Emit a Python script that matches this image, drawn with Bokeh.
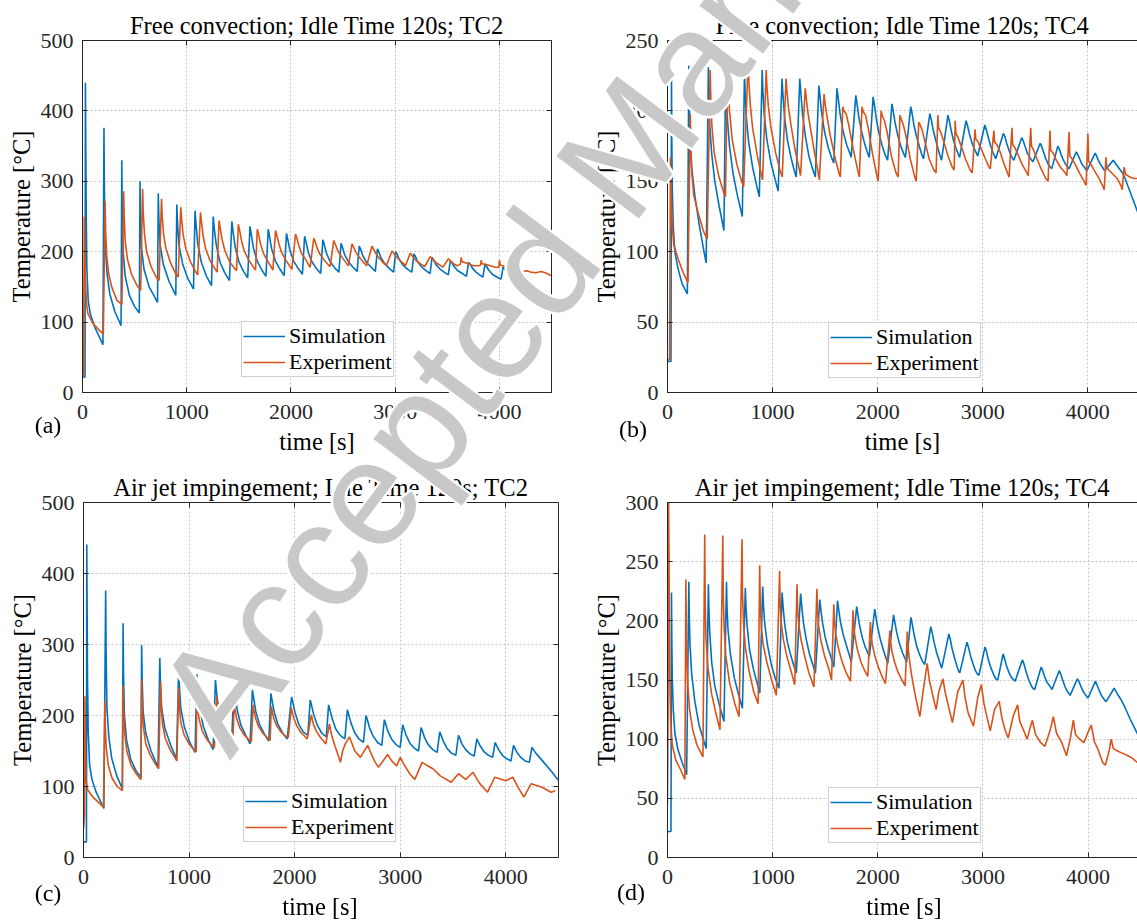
import math
from bokeh.plotting import figure
from bokeh.layouts import row, column
from bokeh.models import Range1d, LinearAxis, FixedTicker, Legend, LegendItem, Div
from bokeh.embed import file_html
from bokeh.resources import INLINE

SERIF = "Liberation Serif"
BLUE = "#0072BD"
ORANGE = "#D95319"
AXC = "#262626"

x_ticks = [0, 1000, 2000, 3000, 4000]
y_ticks_a = [0, 100, 200, 300, 400, 500]
y_ticks_b = [0, 50, 100, 150, 200, 250]
y_ticks_c = [0, 100, 200, 300, 400, 500]
y_ticks_d = [0, 50, 100, 150, 200, 250, 300]

titles = ["Free convection; Idle Time 120s; TC2",
          "Free convection; Idle Time 120s; TC4",
          "Air jet impingement; Idle Time 120s; TC2",
          "Air jet impingement; Idle Time 120s; TC4"]
panel_tags = ["(a)", "(b)", "(c)", "(d)"]
series_names = ["Simulation", "Experiment"]
x_title = "time [s]"
y_title = "Temperature [\u00b0C]"
watermark = "Accepted Manuscript"

# (time [s], temperature [C])
a_sim = [(0,22),(24,22),(28,440),(31,360),(36,250),(42,175),(55,130),(75,112),(120,92),(196,68),
(206,376),(210,290),(218,210),(235,170),(262,140),(310,115),(370,95),
(377,330),(381,260),(390,200),(410,165),(450,138),(500,122),(545,113),
(552,300),(557,250),(566,205),(590,175),(640,150),(720,128),
(727,283),(733,245),(745,210),(775,182),(830,158),(895,138),
(905,267),(912,240),(925,210),(960,183),(1010,162),(1065,147),
(1080,258),(1090,238),(1105,212),(1140,185),(1190,165),(1238,152),
(1254,250),(1265,232),(1285,208),(1320,185),(1365,170),(1410,159),
(1433,243),(1445,228),(1465,207),(1500,186),(1545,172),(1585,163),
(1607,236),(1620,224),(1640,205),(1675,187),(1720,174),(1760,165),
(1782,232),(1795,221),(1815,204),(1850,187),(1895,175),(1935,166),
(1957,226),(1970,217),(1990,202),(2025,187),(2070,176),(2110,168),
(2131,222),(2145,214),(2165,200),(2200,186),(2245,176),(2285,169),
(2306,217),(2320,210),(2340,198),(2375,186),(2420,177),(2460,171),
(2481,212),(2495,206),(2515,196),(2550,186),(2595,178),(2635,172),
(2655,208),(2670,203),(2690,194),(2725,185),(2770,178),(2810,172),
(2830,204),(2845,199),(2865,191),(2900,183),(2945,176),(2985,171),
(3005,200),(3020,196),(3040,189),(3075,181),(3120,175),(3160,171),
(3180,197),(3195,193),(3215,186),(3250,179),(3295,173),(3335,169),
(3354,192),(3370,188),(3390,182),(3425,176),(3470,171),(3510,167),
(3529,187),(3545,184),(3565,179),(3600,173),(3645,169),(3684,165),
(3704,185),(3720,182),(3740,177),(3775,171),(3810,167),(3842,164),
(3861,182),(3877,179),(3897,174),(3932,168),(3975,164),(4016,161),
(4036,178),(4052,175),(4072,170),(4107,165),(4150,162),(4190,160),
(4210,174),(4226,171),(4250,166),(4300,157),(4350,149),(4400,141),(4450,134),(4495,128)]

a_exp = [(0,22),(10,26),(14,150),(17,250),(22,200),(30,150),(40,125),(52,112),(100,98),(150,90),(200,83),
(217,272),(222,230),(232,195),(250,170),(280,150),(330,131),(378,125),
(395,286),(400,250),(410,215),(430,190),(470,168),(520,153),(558,145),
(577,289),(583,255),(595,225),(615,200),(660,178),(710,163),(735,159),
(758,275),(765,250),(778,225),(800,205),(845,184),(890,170),(918,164),
(943,263),(952,245),(965,225),(990,205),(1035,186),(1080,173),(1105,167),
(1132,256),(1142,242),(1157,223),(1180,205),(1225,187),(1270,176),(1292,171),
(1310,244),(1322,233),(1340,217),(1365,202),(1410,186),(1455,177),(1478,173),
(1495,239),(1508,230),(1525,216),(1550,202),(1595,188),(1640,178),(1660,174),
(1677,232),(1690,224),(1708,211),(1735,198),(1780,186),(1815,177),(1827,174),
(1852,230),(1865,223),(1885,211),(1910,199),(1955,187),(1995,178),(2009,175),
(2044,225),(2057,219),(2077,208),(2100,198),(2145,188),(2175,180),(2184,178),
(2219,219),(2232,214),(2252,205),(2275,197),(2320,188),(2360,181),(2376,179),
(2411,216),(2425,211),(2445,203),(2470,196),(2510,188),(2540,182),(2551,180),
(2586,211),(2600,207),(2620,200),(2645,194),(2685,187),(2715,182),(2726,180),
(2778,208),(2792,204),(2812,198),(2835,193),(2870,187),(2900,182),(2918,181),
(2970,201),(2985,198),(3005,194),(3030,190),(3065,185),(3090,182),(3099,180),
(3145,198),(3160,195),(3180,191),(3205,187),(3240,183),(3270,180),(3284,179),
(3337,193),(3350,191),(3370,188),(3395,184),(3430,181),(3459,178),
(3511,190),(3530,187),(3560,183),(3590,180),(3625,182),(3634,192),(3640,186),(3680,184),(3720,182),(3750,180),
(3800,180),(3820,181),(3826,188),(3832,183),(3870,182),(3910,180),(3960,178),(3995,178),(4001,188),(4008,181),
(4050,179),(4100,176),(4150,175),(4160,173),(4200,170),(4230,172),(4260,173),(4300,171),(4350,170),(4400,172),
(4440,170),(4470,168),(4495,166)]

b_sim = [(0,22),(33,22),(38,224),(41,180),(45,146),(55,118),(70,100),(100,88),(140,77),(189,70),
(203,232),(207,205),(214,184),(230,160),(260,140),(300,120),(340,103),(368,92),
(389,231),(394,210),(402,190),(420,170),(450,150),(490,133),(537,115),
(554,233),(559,215),(568,196),(590,175),(625,155),(665,140),(712,125),
(733,229),(739,213),(750,196),(772,178),(810,160),(845,148),(874,139),
(901,229),(908,214),(920,198),(945,180),(985,163),(1025,151),(1053,143),
(1090,223),(1100,210),(1115,195),(1140,180),(1175,167),(1205,158),(1225,153),
(1259,223),(1270,212),(1285,198),(1310,183),(1345,168),(1380,159),(1407,153),
(1441,218),(1452,210),(1468,198),(1495,185),(1530,174),(1560,167),(1582,163),
(1613,216),(1625,209),(1642,198),(1670,186),(1705,176),(1730,171),(1748,167),
(1792,211),(1804,205),(1820,196),(1845,186),(1875,177),(1900,171),(1920,167),
(1957,210),(1970,204),(1986,195),(2010,185),(2040,176),(2070,169),(2095,165),
(2136,205),(2148,200),(2165,192),(2190,183),(2220,175),(2245,170),(2264,167),
(2315,203),(2328,198),(2345,190),(2370,182),(2400,174),(2420,169),(2436,166),
(2497,198),(2510,194),(2527,187),(2550,180),(2575,173),(2595,168),(2608,165),
(2669,197),(2682,193),(2700,186),(2722,179),(2748,173),(2768,169),(2780,167),
(2841,193),(2854,190),(2872,184),(2895,178),(2920,173),(2940,170),(2952,168),
(3020,190),(3033,187),(3050,182),(3072,176),(3095,171),(3112,168),(3124,166),
(3196,184),(3210,182),(3228,177),(3250,172),(3272,168),(3286,166),(3296,165),
(3371,181),(3384,179),(3402,175),(3425,170),(3448,167),(3465,165),(3478,164),
(3547,177),(3560,175),(3578,171),(3600,166),(3625,162),(3645,160),(3657,159),
(3715,175),(3728,173),(3746,169),(3768,165),(3790,162),(3810,160),(3822,159),
(3891,171),(3904,169),(3922,166),(3945,162),(3968,160),(3985,158),(3994,158),
(4070,170),(4083,168),(4100,165),(4120,162),(4140,160),(4155,158),(4166,158),
(4242,165),(4260,163),(4290,160),(4320,157),(4345,154),(4380,147),(4420,139),(4460,131),(4500,123)]

b_exp = [(0,22),(20,24),(28,167),(35,140),(45,118),(60,105),(100,95),(150,85),(195,78),
(217,198),(222,175),(232,155),(250,140),(290,128),(340,115),(378,109),
(406,229),(412,210),(422,190),(445,170),(490,153),(535,142),(552,139),
(571,237),(578,218),(590,200),(615,180),(660,162),(705,150),(725,146),
(767,235),(775,220),(787,205),(810,188),(855,168),(890,156),(905,151),
(939,229),(947,216),(960,203),(985,188),(1030,170),(1070,158),(1092,153),
(1128,223),(1138,213),(1152,202),(1175,190),(1215,172),(1250,160),(1266,154),
(1311,216),(1322,208),(1336,199),(1360,188),(1400,170),(1430,158),(1445,151),
(1490,212),(1500,205),(1520,195),(1550,182),(1600,165),(1635,155),(1645,153),
(1668,203),(1680,200),(1700,198),(1725,190),(1770,172),(1810,158),(1826,153),
(1851,203),(1865,199),(1885,197),(1910,188),(1950,170),(1990,155),(2005,150),
(2033,200),(2047,196),(2065,193),(2090,185),(2130,168),(2175,156),(2195,153),
(2212,197),(2225,194),(2245,190),(2270,182),(2310,166),(2350,154),(2367,150),
(2391,192),(2405,190),(2425,186),(2450,178),(2490,166),(2535,158),(2556,156),
(2573,197),(2580,188),(2600,185),(2630,178),(2670,168),(2710,160),(2728,158),
(2738,193),(2745,184),(2765,181),(2795,175),(2835,166),(2880,158),(2900,156),
(2927,187),(2934,180),(2955,178),(2985,173),(3025,166),(3060,160),(3072,159),
(3106,186),(3113,178),(3135,176),(3165,171),(3205,162),(3240,155),(3251,153),
(3278,188),(3285,176),(3305,174),(3335,169),(3375,162),(3420,156),(3433,154),
(3457,188),(3464,175),(3485,172),(3515,166),(3555,159),(3600,152),(3622,150),
(3640,186),(3647,172),(3670,170),(3700,165),(3740,160),(3785,156),(3801,154),
(3822,185),(3829,168),(3850,166),(3880,162),(3920,156),(3965,150),(3984,147),
(4001,184),(4008,164),(4030,162),(4060,158),(4100,153),(4140,147),(4156,144),
(4173,167),(4180,160),(4200,158),(4240,155),(4280,152),(4315,147),(4328,144),
(4345,160),(4360,155),(4400,153),(4440,152),(4475,152)]

c_sim = [(0,22),(28,22),(31,441),(34,360),(38,250),(45,175),(58,130),(80,110),(120,92),(193,69),
(210,376),(214,290),(222,210),(240,170),(267,140),(315,115),(368,97),
(375,330),(379,260),(388,200),(408,165),(448,138),(498,122),(544,113),
(551,299),(556,250),(565,205),(590,175),(640,150),(706,127),
(723,281),(729,245),(741,210),(771,182),(826,158),(881,139),
(902,267),(909,240),(922,210),(957,183),(1007,162),(1057,148),
(1074,258),(1084,238),(1099,212),(1134,185),(1184,165),(1228,152),
(1250,250),(1261,232),(1281,208),(1316,185),(1361,170),(1402,156),
(1425,243),(1437,228),(1457,207),(1492,186),(1537,172),(1578,160),
(1600,236),(1613,224),(1633,205),(1668,187),(1713,174),(1755,164),
(1775,231),(1788,220),(1808,204),(1843,187),(1888,175),(1930,167),
(1971,226),(1984,218),(2004,204),(2039,188),(2081,177),(2125,172),
(2148,222),(2161,214),(2181,201),(2216,186),(2258,175),(2300,170),
(2322,215),(2335,208),(2355,196),(2390,181),(2432,172),(2476,167),
(2500,208),(2513,201),(2533,190),(2568,176),(2610,167),(2652,162),
(2676,200),(2689,194),(2709,183),(2744,171),(2786,162),(2826,158),
(2850,194),(2863,188),(2883,178),(2918,167),(2960,159),(3000,155),
(3024,187),(3037,181),(3057,172),(3092,161),(3134,154),(3174,150),
(3198,183),(3211,178),(3231,169),(3266,159),(3308,152),(3350,148),
(3375,177),(3388,172),(3408,164),(3443,154),(3485,147),(3528,144),
(3552,172),(3565,168),(3585,160),(3620,152),(3662,146),(3702,143),
(3726,167),(3739,163),(3759,157),(3794,149),(3836,144),(3876,141),
(3900,162),(3913,158),(3933,152),(3968,144),(4010,139),(4050,136),
(4074,158),(4087,154),(4107,148),(4142,141),(4184,136),(4224,134),
(4248,155),(4262,152),(4285,147),(4320,141),(4360,134),(4400,127),(4440,120),(4475,113),(4500,109)]

c_exp = [(0,40),(10,60),(14,227),(18,139),(22,110),(40,95),(90,85),(140,78),(189,71),
(203,220),(207,185),(215,155),(235,130),(270,112),(320,100),(368,94),
(375,242),(380,205),(390,175),(410,150),(450,130),(500,118),(544,110),
(551,251),(556,215),(566,185),(590,160),(630,145),(680,132),(712,125),
(730,248),(736,215),(748,188),(775,168),(820,152),(865,141),(884,136),
(902,239),(909,212),(922,190),(955,172),(1000,160),(1045,152),(1068,149),
(1074,232),(1082,212),(1095,195),(1125,178),(1170,166),(1215,158),(1240,155),
(1263,227),(1272,211),(1287,197),(1315,182),(1360,170),(1400,164),(1415,162),
(1428,218),(1438,206),(1452,195),(1480,183),(1520,173),(1565,166),(1590,163),
(1607,215),(1617,205),(1632,195),(1660,184),(1700,175),(1745,168),(1768,165),
(1780,213),(1790,204),(1805,195),(1832,185),(1870,177),(1915,171),(1940,169),
(1969,211),(1980,203),(1995,195),(2022,185),(2060,176),(2100,170),(2120,167),
(2158,201),(2168,194),(2182,186),(2210,177),(2245,169),(2280,163),(2295,160),
(2330,188),(2340,180),(2355,170),(2380,158),(2410,145),(2434,134),
(2455,150),(2480,160),(2519,170),(2540,162),(2570,150),(2623,141),
(2692,158),(2720,148),(2760,135),(2795,127),
(2881,145),(2920,136),(2967,129),(3001,141),(3040,130),(3090,118),(3139,110),
(3208,134),(3250,130),(3311,125),(3380,115),(3483,106),
(3552,118),(3621,110),(3690,120),(3750,105),(3828,92),
(3896,113),(4000,108),(4068,113),(4120,98),(4172,85),
(4241,104),(4344,99),(4430,92),(4470,94)]

d_sim = [(0,22),(33,22),(38,224),(41,185),(45,153),(55,125),(70,105),(100,91),(140,80),(182,70),
(203,233),(207,205),(214,180),(230,155),(260,132),(300,112),(340,100),(368,92),
(389,231),(394,210),(402,190),(420,165),(450,145),(490,130),(537,115),
(561,233),(566,212),(575,193),(598,172),(635,152),(675,138),(712,126),
(740,228),(746,212),(757,196),(780,176),(815,160),(850,148),(878,139),
(905,229),(912,214),(924,198),(950,180),(990,162),(1030,150),(1060,143),
(1090,224),(1100,211),(1115,197),(1140,182),(1175,170),(1205,161),(1225,156),
(1266,223),(1277,212),(1292,199),(1318,185),(1350,172),(1385,162),(1407,156),
(1448,218),(1459,209),(1475,198),(1500,186),(1530,176),(1560,168),(1582,161),
(1617,217),(1629,209),(1645,199),(1672,188),(1705,178),(1730,171),(1748,165),
(1799,212),(1811,205),(1827,196),(1852,186),(1880,178),(1905,173),(1920,170),
(1971,210),(1983,203),(2000,194),(2025,184),(2055,175),(2080,168),(2095,164),
(2150,205),(2162,199),(2180,190),(2205,181),(2235,173),(2260,168),(2274,165),
(2315,203),(2328,197),(2346,188),(2372,178),(2400,171),(2425,166),(2446,163),
(2504,195),(2517,190),(2535,182),(2560,173),(2585,166),(2600,162),(2608,160),
(2676,189),(2690,184),(2708,176),(2732,168),(2755,161),(2772,157),(2780,156),
(2848,182),(2862,178),(2880,171),(2905,164),(2928,158),(2948,155),(2962,154),
(3020,178),(3034,174),(3052,167),(3077,160),(3100,155),(3122,151),(3141,150),
(3192,172),(3206,168),(3224,162),(3249,156),(3272,152),(3295,150),(3306,149),
(3375,167),(3389,164),(3407,158),(3432,151),(3455,146),(3475,143),(3492,142),
(3554,161),(3568,158),(3586,153),(3610,148),(3635,145),(3650,143),(3657,142),
(3726,158),(3740,155),(3758,150),(3782,144),(3805,140),(3822,138),(3829,137),
(3898,151),(3912,149),(3930,145),(3955,140),(3980,137),(3995,135),(4001,135),
(4070,149),(4084,146),(4102,142),(4126,137),(4150,134),(4167,132),(4173,132),
(4248,143),(4262,141),(4280,138),(4310,134),(4350,127),(4400,117),(4450,108),(4472,104)]

d_exp = [(0,45),(5,120),(10,305),(14,260),(18,195),(22,150),(30,115),(45,95),(80,82),(120,75),(165,66),
(175,235),(180,185),(190,150),(210,125),(240,108),(280,95),(337,85),
(354,273),(358,220),(366,185),(385,160),(420,138),(465,120),(499,108),
(526,272),(530,225),(538,195),(555,170),(590,148),(640,130),(681,119),
(709,269),(713,225),(722,200),(740,178),(775,158),(820,140),(862,130),
(877,247),(882,215),(892,195),(910,180),(945,165),(990,150),(1035,137),
(1066,242),(1071,215),(1080,200),(1100,185),(1135,170),(1180,156),(1210,146),
(1232,231),(1238,210),(1248,197),(1270,184),(1305,170),(1345,156),(1393,144),
(1421,227),(1427,208),(1437,196),(1460,183),(1495,170),(1535,159),(1560,150),
(1582,214),(1588,200),(1598,190),(1620,179),(1655,167),(1700,156),(1740,149),
(1765,209),(1772,196),(1782,187),(1805,176),(1840,165),(1880,157),(1905,153),
(1930,199),(1937,188),(1948,180),(1970,171),(2005,161),(2045,152),(2073,147),
(2116,192),(2123,182),(2135,174),(2160,165),(2195,156),(2230,150),(2260,145),
(2281,191),(2288,178),(2300,168),(2320,155),(2350,140),(2380,127),(2400,119),
(2430,140),(2470,164),(2490,150),(2520,138),(2555,125),(2580,140),(2620,151),(2640,140),(2680,125),(2710,114),
(2760,140),(2810,150),(2830,135),(2860,122),(2910,111),(2950,135),(2985,146),(3010,130),(3040,118),(3070,107),
(3110,125),(3155,132),(3180,118),(3210,108),(3240,101),(3290,120),(3330,129),(3350,115),(3385,108),(3420,100),
(3450,110),(3470,116),(3500,104),(3550,97),(3590,94),(3640,108),(3670,119),(3700,105),(3750,97),(3795,86),
(3830,100),(3860,116),(3880,104),(3920,100),(3960,97),(4000,106),(4030,112),(4060,98),(4100,90),(4140,80),(4165,78),
(4200,90),(4220,100),(4240,92),(4280,90),(4330,88),(4380,86),(4420,84),(4472,80)]

# ---------------- layout (page px == picture px) ----------------
# xlab: None -> Bokeh axis label; (x, baseline_y) -> placed in the page overlay
specs = [
    dict(sim=a_sim, exp=a_exp, yticks=y_ticks_a, ymax=500, xmax=4500, W=583, H=462,
         bl=82, br=32, bt=39, bb=70, right_box=True, tag_xy=(48, 425), leg=(159, 15),
         xs=(12, 6), xlab=None),
    dict(sim=b_sim, exp=b_exp, yticks=y_ticks_b, ymax=250, xmax=4473, W=554, H=462,
         bl=84, br=0, bt=40, bb=68, right_box=False, tag_xy=(633, 429), leg=(161, 14),
         xs=(12, 6), xlab=None),
    dict(sim=c_sim, exp=c_exp, yticks=y_ticks_c, ymax=500, xmax=4500, W=583, H=461,
         bl=83, br=25, bt=40, bb=64, right_box=True, tag_xy=(48, 893), leg=(160, 15),
         xs=(12, 2), xlab=(320, 915)),
    dict(sim=d_sim, exp=d_exp, yticks=y_ticks_d, ymax=300, xmax=4470, W=554, H=461,
         bl=84, br=0, bt=40, bb=66, right_box=False, tag_xy=(631, 892), leg=(161, 14),
         xs=(12, 2), xlab=(904, 915)),
]

WM_ANCHOR = (230, 761)   # picture px: start of the watermark baseline
WM_ANGLE_DEG = 53
WM_SIZE = 150


def style_axis(ax, ticks, labels=True, standoff=9):
    ax.ticker = FixedTicker(ticks=ticks)
    ax.major_tick_in = 5
    ax.major_tick_out = 0
    ax.minor_tick_line_color = None
    ax.axis_line_color = AXC
    ax.axis_line_width = 1
    ax.major_tick_line_color = AXC
    if labels:
        ax.major_label_text_font = SERIF
        ax.major_label_text_font_size = "22px"
        ax.major_label_text_color = AXC
        ax.major_label_standoff = standoff
    else:
        ax.major_label_text_font_size = "0px"
        ax.major_label_text_color = None
        ax.major_label_standoff = 0


def set_axis_label(ax, lab, so):
    ax.axis_label = lab
    ax.axis_label_text_font = SERIF
    ax.axis_label_text_font_size = "24.5px"
    ax.axis_label_text_font_style = "normal"
    ax.axis_label_text_color = "black"
    ax.axis_label_standoff = so


figs = []
for i, s in enumerate(specs):
    p = figure(width=s["W"], height=s["H"], x_range=Range1d(0, s["xmax"]),
               y_range=Range1d(0, s["ymax"]), output_backend="svg", toolbar_location=None,
               min_border_left=s["bl"], min_border_right=s["br"], min_border_top=s["bt"],
               min_border_bottom=s["bb"], outline_line_color=None, title=titles[i],
               background_fill_color="white", border_fill_color="white")
    p.title.align = "center"
    p.title.text_font = SERIF
    p.title.text_font_size = "24.5px"
    p.title.text_font_style = "normal"
    p.title.text_color = "black"
    p.title.standoff = 3

    style_axis(p.xaxis[0], x_ticks, True, s["xs"][0])
    style_axis(p.yaxis[0], s["yticks"], True, 9)
    set_axis_label(p.yaxis[0], y_title, 3)
    if s["xlab"] is None:
        set_axis_label(p.xaxis[0], x_title, s["xs"][1])

    top = LinearAxis()
    style_axis(top, x_ticks, False)
    p.add_layout(top, "above")
    if s["right_box"]:
        rgt = LinearAxis()
        style_axis(rgt, s["yticks"], False)
        p.add_layout(rgt, "right")

    p.xgrid.ticker = FixedTicker(ticks=x_ticks)
    p.ygrid.ticker = FixedTicker(ticks=s["yticks"])
    for g in (p.xgrid[0], p.ygrid[0]):
        g.grid_line_color = "#c4c4c4"
        g.grid_line_dash = "2 2"
        g.grid_line_width = 1

    ts, vs = zip(*s["sim"])
    te, ve = zip(*s["exp"])
    r1 = p.line(list(ts), list(vs), line_color=BLUE, line_width=1.6)
    r2 = p.line(list(te), list(ve), line_color=ORANGE, line_width=1.6)

    leg = Legend(items=[LegendItem(label=series_names[0], renderers=[r1]),
                        LegendItem(label=series_names[1], renderers=[r2])],
                 location=s["leg"], orientation="vertical",
                 label_text_font=SERIF, label_text_font_size="22px", label_text_color="black",
                 glyph_width=42, glyph_height=20, label_height=20, label_standoff=4,
                 padding=1, spacing=-4, margin=0,
                 border_line_color="#a0a0a0", border_line_width=1,
                 background_fill_color="white", background_fill_alpha=1.0)
    p.add_layout(leg)
    figs.append(p)

# ---- texts that lie outside the plot frames: panel tags, lower x titles, watermark ----
parts = []
for i, s in enumerate(specs):
    tx, ty = s["tag_xy"]
    parts.append(
        f'<div style="position:fixed;left:{tx}px;top:{ty}px;transform:translate(-50%,-50%);'
        f'font-family:\'{SERIF}\';font-size:24px;line-height:1;color:black;white-space:nowrap;'
        f'z-index:20;pointer-events:none;">{panel_tags[i]}</div>')
    if s["xlab"] is not None:
        lx, ly = s["xlab"]
        parts.append(
            f'<div style="position:fixed;left:{lx}px;top:{ly}px;width:0;height:0;z-index:20;'
            f'pointer-events:none;"><div style="position:absolute;left:0;bottom:-4px;'
            f'transform:translateX(-50%);white-space:nowrap;font-family:\'{SERIF}\';'
            f'font-size:24.5px;line-height:1;color:black;">{x_title}</div></div>')
shadow = ",".join(f"{dx}px {dy}px 0 #fff" for dx, dy in
                  [(2, 0), (-2, 0), (0, 2), (0, -2), (2, 2), (-2, -2), (2, -2), (-2, 2)])
wx, wy = WM_ANCHOR
parts.append(
    f'<div style="position:fixed;left:{wx}px;top:{wy}px;width:0;height:0;'
    f'transform:rotate(-{WM_ANGLE_DEG}deg);transform-origin:0 0;z-index:30;pointer-events:none;">'
    f'<div style="position:absolute;left:0;bottom:-{0.1535 * WM_SIZE:.1f}px;white-space:nowrap;'
    f'font-family:\'Liberation Sans\';font-size:{WM_SIZE}px;line-height:1;color:#c8c8c8;'
    f'text-shadow:{shadow};">{watermark}</div></div>')
overlay = Div(text="".join(parts), width=0, height=0,
              styles={"overflow": "visible"},
              stylesheets=[":host { overflow: visible !important; }"])

layout = column(row(figs[0], figs[1]), row(figs[2], figs[3], overlay))
open("out.html", "w").write(file_html(layout, INLINE))
